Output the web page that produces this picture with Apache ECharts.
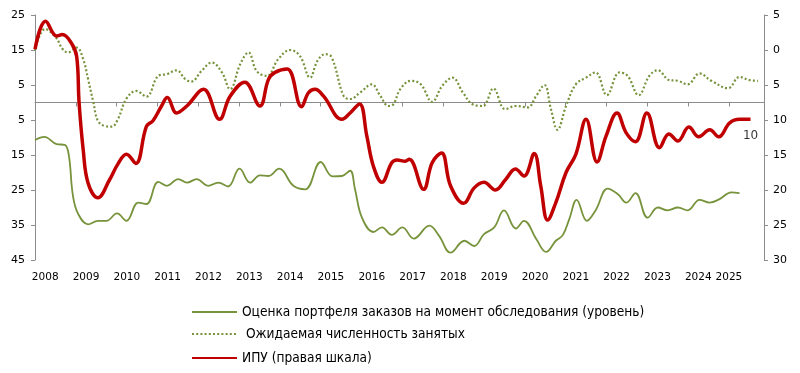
<!DOCTYPE html>
<html>
<head>
<meta charset="utf-8">
<script src="https://cdn.jsdelivr.net/npm/echarts@6/dist/echarts.min.js"></script>
<style>
html,body{margin:0;padding:0;background:#fff;}
#chart{width:800px;height:373px;}
</style>
</head>
<body>
<div id="chart"></div>
<script>
// ---- Data (x = decimal year, y = value) ----
var seriesNames = [
  'Оценка портфеля заказов на момент обследования (уровень)',
  ' Ожидаемая численность занятых',
  'ИПУ (правая шкала)'
];

// Order book assessment (left axis)
var ordersX = [2008.00,2008.23,2008.53,2008.73,2008.83,2008.93,2009.06,2009.30,2009.54,2009.75,2010.01,2010.24,2010.53,2010.73,2011.02,2011.23,2011.51,2011.72,2011.96,2012.24,2012.49,2012.73,2013.01,2013.27,2013.51,2013.72,2013.98,2014.33,2014.62,2015.00,2015.29,2015.52,2015.72,2015.84,2016.01,2016.29,2016.50,2016.74,2017.00,2017.28,2017.66,2017.90,2018.18,2018.52,2018.76,2019.00,2019.25,2019.49,2019.78,2019.98,2020.28,2020.52,2020.76,2020.93,2021.09,2021.27,2021.52,2021.74,2022.03,2022.28,2022.49,2022.71,2023.01,2023.26,2023.50,2023.75,2023.99,2024.28,2024.53,2024.77,2025.06,2025.26];
var ordersY = [-10.7,-9.8,-11.9,-12.1,-15.2,-26.7,-31.9,-34.8,-33.8,-33.8,-31.7,-33.8,-28.6,-29.0,-22.7,-23.8,-21.9,-22.9,-21.9,-23.8,-22.9,-24.0,-18.9,-22.9,-20.8,-21.0,-18.9,-23.8,-24.8,-17.0,-21.1,-21.0,-19.5,-24.8,-32.9,-37.0,-35.7,-37.8,-35.7,-38.9,-35.2,-38.1,-42.9,-39.5,-41.0,-37.6,-35.7,-30.8,-36.0,-33.8,-39.0,-42.7,-39.5,-37.9,-33.3,-27.8,-33.8,-30.7,-24.6,-26.2,-28.6,-25.9,-32.9,-30.0,-30.8,-30.0,-30.8,-27.8,-28.6,-27.6,-25.7,-25.9];

// Expected employment (left axis)
var emplX = [2008.00,2008.25,2008.51,2008.68,2008.81,2009.02,2009.18,2009.30,2009.43,2009.54,2009.71,2009.88,2010.03,2010.24,2010.48,2010.73,2011.02,2011.23,2011.47,2011.68,2011.83,2012.08,2012.33,2012.58,2012.78,2013.03,2013.23,2013.43,2013.68,2013.96,2014.25,2014.49,2014.74,2014.92,2015.11,2015.27,2015.56,2015.72,2015.97,2016.25,2016.46,2016.66,2016.78,2016.95,2017.21,2017.45,2017.73,2017.98,2018.23,2018.48,2018.72,2018.97,2019.23,2019.52,2019.78,2020.07,2020.28,2020.48,2020.64,2020.80,2021.01,2021.25,2021.50,2021.73,2022.01,2022.32,2022.52,2022.79,2023.05,2023.26,2023.54,2023.75,2023.99,2024.28,2024.57,2024.98,2025.26,2025.51,2025.71];
var emplY = [15.0,21.0,18.6,15.2,14.3,15.7,12.4,6.7,0.0,-5.2,-6.7,-6.9,-4.8,1.1,3.3,1.7,7.6,8.1,9.2,6.7,6.0,9.0,11.4,8.6,3.8,11.0,14.3,9.0,7.6,12.4,15.0,13.3,7.1,11.9,13.8,12.9,1.9,1.0,2.9,5.2,1.9,-1.0,-0.5,3.8,6.2,5.2,0.2,4.8,7.1,2.9,-0.5,-1.0,4.0,-1.9,-1.0,-1.4,1.9,5.0,-1.9,-7.8,-1.0,5.2,7.1,8.6,2.1,8.6,7.6,2.1,7.6,9.2,6.4,6.2,5.2,8.3,6.2,4.1,7.3,6.4,6.2];

// Industrial production index (right axis)
var ipuX = [2008.00,2008.26,2008.53,2008.67,2008.89,2009.02,2009.08,2009.18,2009.30,2009.54,2009.83,2010.03,2010.24,2010.47,2010.73,2010.89,2011.10,2011.24,2011.47,2011.72,2012.13,2012.52,2012.78,2013.14,2013.51,2013.72,2013.88,2014.18,2014.53,2014.70,2014.86,2015.07,2015.52,2015.72,2015.95,2016.13,2016.29,2016.50,2016.74,2016.87,2017.07,2017.17,2017.52,2017.73,2017.96,2018.18,2018.50,2018.76,2019.00,2019.28,2019.53,2019.77,2019.98,2020.23,2020.39,2020.56,2020.76,2021.01,2021.25,2021.50,2021.77,2021.99,2022.26,2022.48,2022.71,2022.99,2023.30,2023.53,2023.75,2024.02,2024.26,2024.53,2024.75,2025.02,2025.26,2025.53];
var ipuY = [0.1,4.1,2.0,2.2,1.0,-0.9,-7.5,-14.2,-19.0,-21.1,-18.5,-16.3,-14.9,-16.2,-10.9,-10.1,-8.0,-6.8,-9.0,-8.0,-5.6,-9.9,-6.6,-4.6,-8.0,-4.2,-3.2,-2.7,-8.1,-6.1,-5.6,-6.6,-9.9,-9.0,-7.7,-12.3,-16.6,-18.9,-16.1,-15.7,-15.9,-15.6,-19.9,-16.1,-14.7,-19.4,-21.9,-19.7,-18.9,-20.0,-18.5,-17.0,-18.0,-14.8,-19.4,-24.3,-21.8,-17.5,-14.9,-9.9,-16.0,-12.3,-9.0,-11.8,-13.1,-9.0,-13.95,-12.0,-13.0,-11.0,-12.4,-11.4,-12.4,-10.4,-9.9,-9.9];

var yearLabels = ['2008','2009','2010','2011','2012','2013','2014','2015','2016','2017','2018','2019','2020','2021','2022','2023','2024','2025'];
var leftTicks = [-45,-35,-25,-15,-5,5,15,25];

// ---- build ----
function pairs(xs, ys){ return xs.map(function(x,i){ return [x, ys[i]]; }); }
var ipuData = pairs(ipuX, ipuY);
var ipuLast = [ipuData[ipuData.length - 1]];

var firstYear = parseInt(yearLabels[0], 10);
var yearTickVals = yearLabels.map(function(y){ return parseInt(y,10); }).filter(function(v){ return v > firstYear; });
var yearLabelVals = yearLabels.map(function(y, i){
  var v = parseInt(y, 10);
  return i === yearLabels.length - 1 ? v : v + 0.25;
});

var GRAY = '#8c8c8c';
var OLIVE = '#77933c';
var RED = '#c00000';
var FONT = 'DejaVu Sans';
var LEGFONT = "'DejaVu Sans Condensed', 'DejaVu Sans'";

function legend(name, top){
  return {
    data: [name], left: 191, top: top, padding: 0, itemWidth: 45, itemHeight: 14,
    itemStyle: {opacity: 0},
    textStyle: {fontFamily: LEGFONT, fontSize: 13.6, color: '#000'},
    selectedMode: false
  };
}

var chart = echarts.init(document.getElementById('chart'), null, {renderer: 'canvas'});
chart.setOption({
  animation: false,
  backgroundColor: '#fff',
  grid: {left: 35, right: 36, top: 15, bottom: 113, containLabel: false},
  legend: [legend(seriesNames[0], 305), legend(seriesNames[1], 327), legend(seriesNames[2], 351)],
  xAxis: [
    {
      type: 'value', min: firstYear, max: 2025.86, position: 'bottom',
      axisLine: {show: true, onZero: true, lineStyle: {color: GRAY, width: 1}},
      axisTick: {show: true, inside: false, length: 4, lineStyle: {color: GRAY}, customValues: yearTickVals},
      axisLabel: {show: false},
      splitLine: {show: false}
    },
    {
      type: 'value', min: firstYear, max: 2025.86, position: 'bottom',
      axisLine: {show: false, onZero: false},
      axisTick: {show: false},
      axisLabel: {
        show: true, margin: 12, customValues: yearLabelVals,
        formatter: function(v){ return String(Math.floor(v + 0.001)); },
        color: '#000', fontSize: 10.5, fontFamily: FONT
      },
      splitLine: {show: false}
    }
  ],
  yAxis: [
    {
      type: 'value', min: -45, max: 25, position: 'left',
      axisLine: {show: true, lineStyle: {color: GRAY}},
      axisTick: {show: true, inside: false, length: 4, lineStyle: {color: GRAY}, customValues: leftTicks},
      axisLabel: {
        customValues: leftTicks, margin: 10,
        formatter: function(v){ return String(Math.abs(v)); },
        color: '#000', fontSize: 11, fontFamily: FONT
      },
      splitLine: {show: false}
    },
    {
      type: 'value', min: -30, max: 5, interval: 5, position: 'right',
      axisLine: {show: true, lineStyle: {color: GRAY}},
      axisTick: {show: true, inside: false, length: 4, lineStyle: {color: GRAY}},
      axisLabel: {
        margin: 9,
        formatter: function(v){ return String(Math.abs(v)); },
        color: '#000', fontSize: 11, fontFamily: FONT
      },
      splitLine: {show: false}
    }
  ],
  series: [
    {
      name: seriesNames[0], type: 'line', xAxisIndex: 0, yAxisIndex: 0,
      data: pairs(ordersX, ordersY), smooth: 0.4, symbol: 'none',
      lineStyle: {color: OLIVE, width: 1.8}, itemStyle: {color: OLIVE}, z: 2
    },
    {
      name: seriesNames[1], type: 'line', xAxisIndex: 0, yAxisIndex: 0,
      data: pairs(emplX, emplY), smooth: 0.4, symbol: 'none',
      lineStyle: {color: OLIVE, width: 2.2, type: [2, 2.2]}, itemStyle: {color: OLIVE}, z: 2
    },
    {
      name: seriesNames[2], type: 'line', xAxisIndex: 0, yAxisIndex: 1,
      data: ipuData, smooth: 0.4, symbol: 'none',
      lineStyle: {color: RED, width: 3.5}, itemStyle: {color: RED}, z: 3
    },
    {
      name: 'ipu-last-label', type: 'scatter', xAxisIndex: 0, yAxisIndex: 1,
      data: ipuLast, symbol: 'circle', symbolSize: 2,
      itemStyle: {color: 'rgba(0,0,0,0)', borderWidth: 0},
      silent: true, z: 4,
      labelLayout: {hideOverlap: false},
      label: {
        show: true, position: 'bottom', distance: 10, offset: [4, 1],
        formatter: function(p){ return String(Math.round(Math.abs(p.value[1]))); },
        color: '#000', fontSize: 12, fontFamily: FONT
      }
    }
  ]
});
</script>
</body>
</html>
